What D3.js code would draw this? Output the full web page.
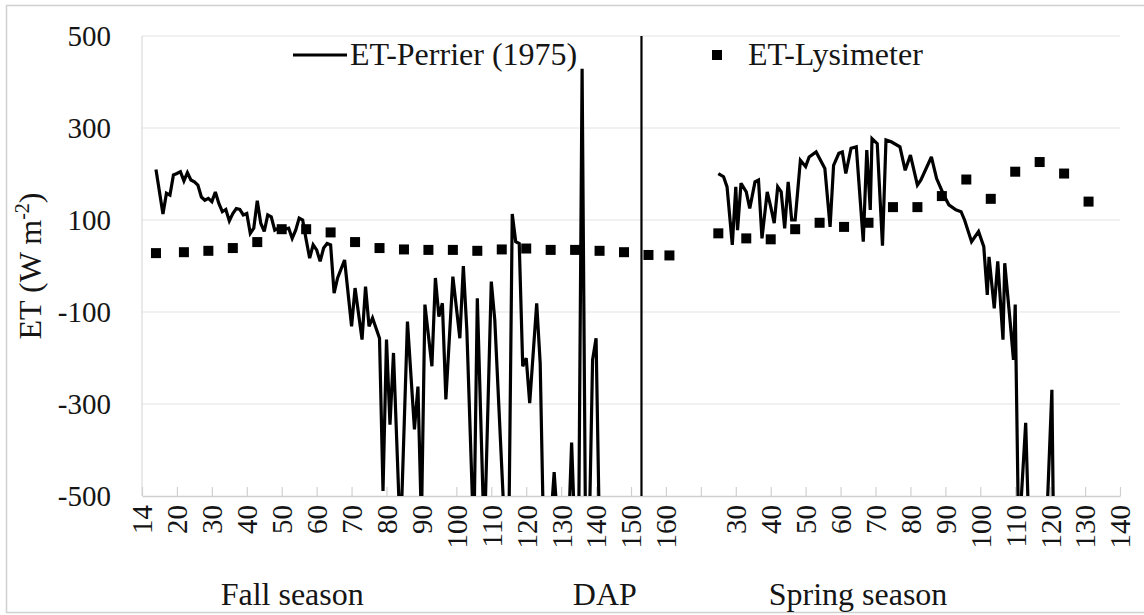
<!DOCTYPE html>
<html>
<head>
<meta charset="utf-8">
<script src="https://cdn.jsdelivr.net/npm/d3@7"></script>
<style>
  html, body { margin: 0; padding: 0; background: #fff; }
  svg { display: block; }
</style>
</head>
<body>
<svg id="chart" width="1144" height="615"></svg>
<script>
// ---------------- DATA ----------------
const yTickValues = [500, 300, 100, -100, -300, -500];
const xTickLabels = ["14","20","30","40","50","60","70","80","90","100","110","120","130","140","150","160",
                     "","30","40","50","60","70","80","90","100","110","120","130","140"];

// Fall season: ET-Perrier (1975), DAP and W m-2
const fallPerrierDAP = [14,16,17,18,19,20,21,22,23,24,25,26,27,28,29,30,31,32,33,34,35,36,37,38,39,40,
  41,42,43,44,45,46,47,48,49,50,52,53,54,55,56,57,58,59,60,61,62,63,64,65,66,68,70,71,73,74,75,76,78,79,
  80,81,82,84,86,88,89,90,91,93,94,95,96,97,99,101,102,103,105,106,108,110,111,114,115,116,117,118,119,
  120,121,123,124,125,127,128,129,132,133,134,135,136,137,138,139,140,141];
const fallPerrierET = [210,113,158,154,198,201,205,185,203,187,183,176,150,143,147,140,161,136,118,123,98,114,125,123,111,114,
  71,82,142,93,75,111,107,78,82,78,82,60,78,104,100,57,17,46,35,10,39,49,46,-59,-26,13,-131,-48,-160,-45,-131,-113,-157,-489,
  -160,-345,-189,-600,-121,-355,-262,-560,-84,-218,-26,-110,-81,-290,-23,-157,0,-139,-600,-70,-600,-34,-117,-600,-600,113,53,49,-218,
  -200,-298,-81,-211,-600,-560,-448,-560,-600,-384,-600,-600,429,-600,-600,-204,-157,-600];

// Fall season: ET-Lysimeter
const fallLysDAP = [14,22,29,36,43,50,57,64,71,78,85,92,99,106,113,120,127,134,141,148,155,161];
const fallLysET  = [28,30,33,39,52,80,80,73,52,39,36,35,35,33,36,38,35,35,33,30,24,23];

// Spring season: ET-Perrier (1975)
const springPerrierDAP = [25,26.5,27.5,29,30,30.5,31.5,33,34,35.5,36.5,37.5,39,40,41,42,43,44,45,46,47,48.5,50,51,53,55.5,
  57,58,59.5,60.5,61.5,63,64.5,66.5,67.5,68.5,69,70.5,72,73,74.5,77,78.5,80,82,83,86,87.5,89.5,91,93,94.5,95.5,97.5,99.5,
  101,102,102.5,104,105,106.5,107,108.5,109.5,110,111,113,114,119,120.5,121];
const springPerrierET = [201,194,172,46,172,78,180,161,125,183,187,60,161,129,93,172,161,82,183,100,100,230,216,237,248,212,
  85,219,245,248,201,256,259,53,252,122,277,266,44,274,270,259,208,241,176,187,237,190,155,133,122,118,100,53,75,
  42,-63,20,-92,10,-160,6,-117,-204,-84,-600,-341,-600,-560,-269,-600];

// Spring season: ET-Lysimeter
const springLysDAP = [25,33,40,47,54,61,68,75,82,89,96,103,110,117,124,131];
const springLysET  = [71,60,58,80,94,85,94,128,128,152,188,146,205,226,201,140];

// Season divider (DAP, fall axis)
const dividerDAP = 153;

// ---------------- CHART ----------------
const FONT = '"Liberation Serif"';
const TXT = "#151515";
const svg = d3.select("#chart");
const plot = { left: 142, right: 1120, top: 36, bottom: 496 };

// outer border
svg.append("rect").attr("x", 6.5).attr("y", 5.5).attr("width", 1160).attr("height", 607)
  .attr("fill", "none").attr("stroke", "#d0d0d0").attr("stroke-width", 1.5);

const y = d3.scaleLinear().domain([-500, 500]).range([plot.bottom, plot.top]);
const slot = d3.scaleLinear().domain([0, xTickLabels.length - 1]).range([plot.left, plot.right]);
const xFall = d3.scaleLinear().domain([20, 160]).range([slot(1), slot(15)]);
const xSpring = d3.scaleLinear().domain([20, 140]).range([slot(16), slot(28)]);

// gridlines
svg.append("g").selectAll("line").data(yTickValues.filter(d => d !== -500)).join("line")
  .attr("x1", plot.left).attr("x2", plot.right)
  .attr("y1", d => y(d)).attr("y2", d => y(d))
  .attr("stroke", "#e3e3e3").attr("stroke-width", 1.2);

// left axis line
svg.append("line").attr("x1", plot.left).attr("x2", plot.left)
  .attr("y1", plot.top).attr("y2", plot.bottom).attr("stroke", "#dadada").attr("stroke-width", 1.2);

// y axis labels
const yAxis = d3.axisLeft(y).tickValues(yTickValues).tickSize(0).tickPadding(31).tickFormat(d => String(d));
const gy = svg.append("g").attr("transform", `translate(${plot.left},0)`).call(yAxis);
gy.select(".domain").remove();
gy.selectAll("text").attr("fill", TXT).style("font-family", FONT).style("font-size", "29px");

// x axis
const xAxis = d3.axisBottom(slot).tickValues(d3.range(xTickLabels.length))
  .tickFormat(i => xTickLabels[i]).tickSizeInner(-9).tickSizeOuter(0).tickPadding(0);
const gx = svg.append("g").attr("transform", `translate(0,${plot.bottom})`).call(xAxis);
gx.select(".domain").attr("stroke", "#d0d0d0").attr("stroke-width", 1.5);
gx.selectAll(".tick line").attr("stroke", "#d0d0d0").attr("stroke-width", 1.2);
gx.selectAll("text").attr("fill", TXT).style("font-family", FONT).style("font-size", "29px")
  .attr("transform", "rotate(-90)").attr("text-anchor", "end")
  .attr("x", -9).attr("y", 0).attr("dy", "0.34em");

// clip
svg.append("clipPath").attr("id", "plotclip").append("rect")
  .attr("x", plot.left).attr("y", plot.top).attr("width", plot.right - plot.left)
  .attr("height", plot.bottom - plot.top);

const g = svg.append("g").attr("clip-path", "url(#plotclip)");

const lineFall = d3.line().x((d, i) => xFall(fallPerrierDAP[i])).y(d => y(d));
const lineSpring = d3.line().x((d, i) => xSpring(springPerrierDAP[i])).y(d => y(d));

g.append("path").datum(fallPerrierET).attr("d", lineFall)
  .attr("fill", "none").attr("stroke", "#000").attr("stroke-width", 3.2).attr("stroke-linejoin", "miter").attr("stroke-miterlimit", 3);
g.append("path").datum(springPerrierET).attr("d", lineSpring)
  .attr("fill", "none").attr("stroke", "#000").attr("stroke-width", 3.2).attr("stroke-linejoin", "miter").attr("stroke-miterlimit", 3);

// divider
g.append("line").attr("x1", xFall(dividerDAP)).attr("x2", xFall(dividerDAP))
  .attr("y1", y(500)).attr("y2", y(-500)).attr("stroke", "#000").attr("stroke-width", 2.2);

// lysimeter markers
const sq = 10;
g.append("g").selectAll("rect").data(fallLysET).join("rect")
  .attr("x", (d, i) => xFall(fallLysDAP[i]) - sq / 2).attr("y", d => y(d) - sq / 2)
  .attr("width", sq).attr("height", sq).attr("fill", "#000");
g.append("g").selectAll("rect").data(springLysET).join("rect")
  .attr("x", (d, i) => xSpring(springLysDAP[i]) - sq / 2).attr("y", d => y(d) - sq / 2)
  .attr("width", sq).attr("height", sq).attr("fill", "#000");

// legend
const lg = svg.append("g");
lg.append("line").attr("x1", 293).attr("x2", 347).attr("y1", 55).attr("y2", 55)
  .attr("stroke", "#000").attr("stroke-width", 3.2);
lg.append("text").attr("x", 350).attr("y", 65).attr("fill", TXT)
  .style("font-family", FONT).style("font-size", "32px").text("ET-Perrier (1975)");
lg.append("rect").attr("x", 717 - sq / 2).attr("y", 55 - sq / 2).attr("width", sq).attr("height", sq).attr("fill", "#000");
lg.append("text").attr("x", 748).attr("y", 65).attr("fill", TXT)
  .style("font-family", FONT).style("font-size", "32px").text("ET-Lysimeter");

// y axis title
const yt = svg.append("text").attr("transform", `translate(41,${(plot.top + plot.bottom) / 2}) rotate(-90)`)
  .attr("text-anchor", "middle").attr("fill", TXT).style("font-family", FONT).style("font-size", "32px");
yt.append("tspan").text("ET (W m");
yt.append("tspan").style("font-size", "20px").attr("dy", -12).text("-2");
yt.append("tspan").attr("dy", 12).text(")");

// x axis titles
const titles = [["Fall season", 4.3], ["DAP", 13.25], ["Spring season", 20.5]];
svg.append("g").selectAll("text").data(titles).join("text")
  .attr("x", d => slot(d[1])).attr("y", 605).attr("text-anchor", "middle").attr("fill", TXT)
  .style("font-family", FONT).style("font-size", "32px").text(d => d[0]);
</script>
</body>
</html>
